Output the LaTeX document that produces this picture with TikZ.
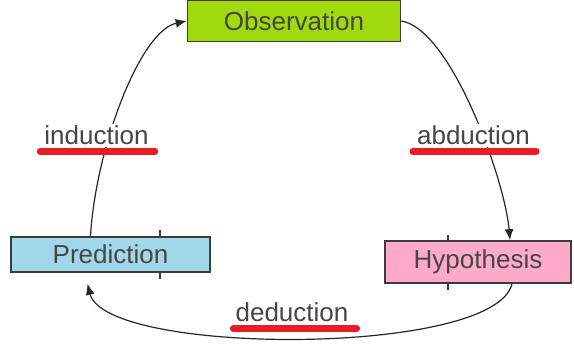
\documentclass[tikz,border=0pt]{standalone}
\usepackage{fontspec}
\setmainfont{Liberation Sans}
\usetikzlibrary{arrows.meta,calc}
\definecolor{obsgreen}{RGB}{160,218,12}
\definecolor{predblue}{RGB}{160,216,234}
\definecolor{hyppink}{RGB}{255,170,200}
\definecolor{ulred}{RGB}{232,28,36}
\definecolor{txt}{RGB}{70,70,70}
\definecolor{edge}{RGB}{60,60,60}
\begin{document}
\begin{tikzpicture}[x=1pt,y=-1pt,
 box/.style={draw=edge,line width=1.6pt,inner sep=0pt,font=\fontsize{26}{30}\selectfont,text=txt},
 lbl/.style={fill=white,inner xsep=4pt,inner ysep=2pt,font=\fontsize{26}{30}\selectfont,text=txt,anchor=base},
 conn/.style={draw=black!85,line width=1.2pt,-{Latex[length=11pt,width=9pt]}},
 ul/.style={draw=ulred,line width=7pt,line cap=round},
 tick/.style={draw=edge,line width=1.2pt}]
\useasboundingbox (0,0) rectangle (574,347);
\node[box,fill=obsgreen,minimum width=213pt,minimum height=41pt] (obs) at (294,21) {Observation};
\node[box,fill=predblue,minimum width=199pt,minimum height=35pt] (pred) at (110.5,254.5) {Prediction};
\node[box,fill=hyppink,minimum width=186pt,minimum height=42pt] (hyp) at (478,262) {Hypothesis};
% connectors
\draw[conn] ([xshift=-20pt]pred.north) .. controls +(5,-87) and +(-47,10) .. (obs.west);
\draw[conn] (obs.east) .. controls +(50,8) and +(-5,-60) .. ([xshift=32pt]hyp.north);
\draw[conn] ([xshift=34pt]hyp.south) .. controls +(-17,73) and +(18,72) .. ([xshift=-23pt,yshift=-11pt]pred.south);
% ticks
\draw[tick] ([xshift=49.5pt]pred.north) -- +(0,-6);
\draw[tick] ([xshift=49.5pt]pred.south) -- +(0,6);
\draw[tick] ([xshift=-30pt]hyp.north) -- +(0,-5);
\draw[tick] ([xshift=-30pt]hyp.south) -- +(0,6);
% labels
\node[lbl] (ind) at (96.5,145) {induction};
\node[lbl] (abd) at (473.5,145) {abduction};
\node[lbl] (ded) at (292,322) {deduction};
\draw[ul] ([shift={(0,6.5)}]ind.base west) -- ([shift={(2,6.5)}]ind.base east);
\draw[ul] ([shift={(0,6.5)}]abd.base west) -- ([shift={(2,6.5)}]abd.base east);
\draw[ul] ([shift={(2,6.5)}]ded.base west) -- ([shift={(4,6.5)}]ded.base east);
\end{tikzpicture}
\end{document}
